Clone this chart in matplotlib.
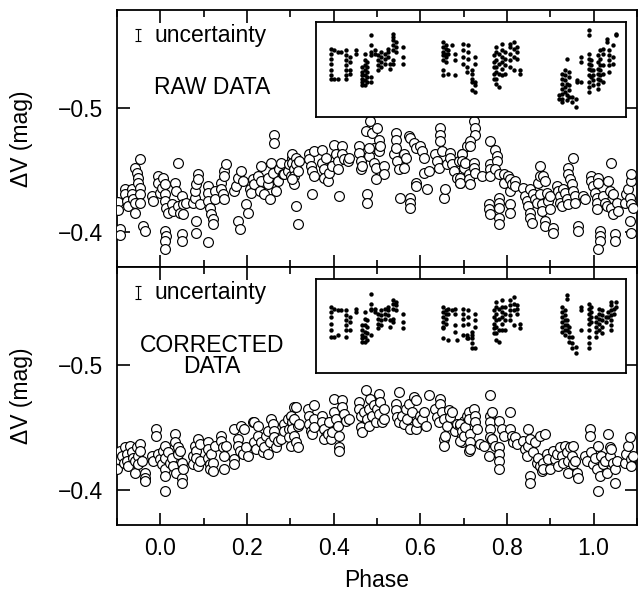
import matplotlib
matplotlib.use("Agg")
import matplotlib.pyplot as plt
from matplotlib.ticker import MultipleLocator, NullLocator

plt.rcParams['font.family'] = ['Liberation Sans', 'DejaVu Sans']

# ---------------- main panels: phase / delta V ----------------
raw_phase = [
    -0.097, -0.097, -0.093, -0.093, -0.082, -0.082, -0.078, -0.074, -0.066, -0.066,
    -0.062, -0.059, -0.059, -0.059, -0.055, -0.051, -0.051, -0.047, -0.047, -0.047,
    -0.047, -0.039, -0.036, -0.020, -0.016, -0.005, -0.005, -0.001, 0.003, 0.007,
    0.010, 0.010, 0.010, 0.014, 0.010, 0.014, 0.010, 0.010, 0.018, 0.026,
    0.030, 0.033, 0.037, 0.041, 0.041, 0.045, 0.049, 0.049, 0.049, 0.053,
    0.053, 0.060, 0.076, 0.079, 0.079, 0.083, 0.087, 0.087, 0.083, 0.083,
    0.091, 0.110, 0.110, 0.110, 0.114, 0.110, 0.118, 0.121, 0.121, 0.125,
    0.125, 0.141, 0.141, 0.144, 0.148, 0.148, 0.152, 0.148, 0.171, 0.175,
    0.179, 0.183, 0.179, 0.187, 0.190, 0.198, 0.202, 0.206, 0.210, 0.213,
    0.217, 0.225, 0.229, 0.233, 0.233, 0.240, 0.248, 0.248, 0.252, 0.256,
    0.259, 0.263, 0.263, 0.267, 0.271, 0.275, 0.279, 0.282, 0.286, 0.294,
    0.298, 0.302, 0.305,
    0.305, 0.305, 0.309, 0.309, 0.309, 0.313, 0.313, 0.317, 0.313, 0.317,
    0.321, 0.305, 0.344, 0.344, 0.348, 0.351, 0.355, 0.355, 0.351, 0.373,
    0.374, 0.378, 0.378, 0.382, 0.386, 0.390, 0.401, 0.397, 0.405, 0.409,
    0.409, 0.413, 0.420, 0.420, 0.424, 0.432, 0.436, 0.459, 0.459, 0.463,
    0.463, 0.466, 0.474, 0.478, 0.478, 0.482, 0.485, 0.489, 0.493, 0.493,
    0.497, 0.501, 0.505, 0.505, 0.508, 0.516, 0.516, 0.497, 0.482, 0.539,
    0.543, 0.543, 0.543, 0.547, 0.551, 0.554, 0.562, 0.562, 0.566, 0.574,
    0.577, 0.577, 0.577, 0.577, 0.585, 0.589, 0.589, 0.589, 0.600, 0.604,
    0.608, 0.608, 0.616, 0.620, 0.635, 0.639, 0.643, 0.646, 0.646, 0.646,
    0.650, 0.654, 0.658, 0.662, 0.669, 0.669, 0.673, 0.677, 0.685, 0.689,
    0.692, 0.696, 0.700, 0.708,
    0.723, 0.727, 0.727, 0.715, 0.715, 0.696, 0.696, 0.700, 0.704, 0.692,
    0.692, 0.712, 0.712, 0.715, 0.723, 0.723, 0.727, 0.742, 0.761, 0.761,
    0.761, 0.761, 0.773, 0.777, 0.777, 0.773, 0.781, 0.792, 0.792, 0.803,
    0.807, 0.807, 0.811, 0.819, 0.819, 0.758, 0.758, 0.761, 0.781, 0.781,
    0.781, 0.781, 0.781, 0.807, 0.807, 0.838, 0.842, 0.846, 0.849, 0.853,
    0.853, 0.853, 0.857, 0.861, 0.865, 0.869, 0.872, 0.876, 0.876, 0.876,
    0.880, 0.880, 0.884, 0.888, 0.888, 0.888, 0.892, 0.895, 0.899, 0.899,
    0.907, 0.907, 0.915, 0.918, 0.922, 0.922, 0.926, 0.930, 0.934, 0.938,
    0.941, 0.941, 0.941, 0.945, 0.949, 0.953, 0.953, 0.957, 0.957, 0.964,
    0.964, 0.976, 0.980, 0.995, 0.995, 0.999, 1.003, 1.007, 1.007, 1.007,
    1.010, 1.010, 1.014, 1.014, 1.014, 1.010, 1.022, 1.026, 1.030, 1.033,
    1.037, 1.041, 1.041, 1.045, 1.045, 1.049, 1.049, 1.053, 1.056, 1.072,
    1.075, 1.079, 1.083, 1.087, 1.087, 1.087, 1.091, 1.083, 1.087,
]
raw_dv = [
    -0.4245, -0.4176, -0.4024, -0.3979, -0.4344, -0.4304, -0.4250, -0.4210, -0.4344, -0.4304,
    -0.4264, -0.4237, -0.4157, -0.4517, -0.4477, -0.4437, -0.4397, -0.4584, -0.4357, -0.4304,
    -0.4237, -0.4050, -0.4010, -0.4290, -0.4250, -0.4450, -0.4397, -0.4317, -0.4357, -0.4437,
    -0.4384, -0.4304, -0.4250, -0.4197, -0.4010, -0.3970, -0.3930, -0.3864, -0.4157, -0.4224,
    -0.4170, -0.4397, -0.4330, -0.4557, -0.4210, -0.4157, -0.4290, -0.3984, -0.3930, -0.4224,
    -0.4144, -0.4237, -0.4237, -0.4277, -0.4330, -0.4384, -0.4464, -0.4424, -0.4090, -0.3997,
    -0.4224, -0.4370, -0.4317, -0.4250, -0.4197, -0.3917, -0.4144, -0.4104, -0.4064, -0.4330,
    -0.4264, -0.4397, -0.4344, -0.4304, -0.4490, -0.4264, -0.4544, -0.4450, -0.4330, -0.4370,
    -0.4090, -0.4024, -0.4437, -0.4490, -0.4410, -0.4224, -0.4157, -0.4344, -0.4317, -0.4424,
    -0.4384, -0.4450, -0.4330, -0.4530, -0.4410, -0.4304, -0.4384, -0.4437, -0.4264, -0.4557,
    -0.4477, -0.4784, -0.4717, -0.4330, -0.4410, -0.4504, -0.4557, -0.4464, -0.4464, -0.4490,
    -0.4544, -0.4450, -0.4597,
    -0.4624, -0.4557, -0.4504, -0.4450, -0.4384, -0.4597, -0.4544, -0.4490, -0.4210, -0.4064,
    -0.4571, -0.4424, -0.4624, -0.4584, -0.4530, -0.4490, -0.4650, -0.4450, -0.4304, -0.4664,
    -0.4557, -0.4504, -0.4437, -0.4597, -0.4410, -0.4477, -0.4704, -0.4530, -0.4624, -0.4571,
    -0.4504, -0.4290, -0.4690, -0.4624, -0.4584, -0.4571, -0.4597, -0.4690, -0.4637, -0.4571,
    -0.4504, -0.4530, -0.4810, -0.4304, -0.4237, -0.4610, -0.4890, -0.4797, -0.4677, -0.4557,
    -0.4517, -0.4837, -0.4744, -0.4650, -0.4690, -0.4530, -0.4464, -0.4424, -0.4677, -0.4624,
    -0.4797, -0.4744, -0.4677, -0.4571, -0.4504, -0.4277, -0.4624, -0.4517, -0.4597, -0.4770,
    -0.4757, -0.4277, -0.4237, -0.4197, -0.4717, -0.4677, -0.4397, -0.4370, -0.4690, -0.4650,
    -0.4597, -0.4477, -0.4344, -0.4490, -0.4624, -0.4571, -0.4517, -0.4837, -0.4784, -0.4736,
    -0.4650, -0.4277, -0.4344, -0.4544, -0.4637, -0.4597, -0.4544, -0.4490, -0.4437, -0.4571,
    -0.4397, -0.4624, -0.4530, -0.4690,
    -0.4890, -0.4837, -0.4784, -0.4730, -0.4690, -0.4624, -0.4571, -0.4517, -0.4557, -0.4437,
    -0.4397, -0.4464, -0.4424, -0.4384, -0.4557, -0.4517, -0.4477, -0.4450, -0.4730, -0.4544,
    -0.4504, -0.4450, -0.4664, -0.4610, -0.4571, -0.4504, -0.4464, -0.4464, -0.4397, -0.4450,
    -0.4424, -0.4330, -0.4384, -0.4410, -0.4370, -0.4224, -0.4184, -0.4144, -0.4277, -0.4237,
    -0.4197, -0.4117, -0.4064, -0.4224, -0.4157, -0.4357, -0.4290, -0.4250, -0.4210, -0.4344,
    -0.4157, -0.4117, -0.4077, -0.4304, -0.4264, -0.4237, -0.4397, -0.4530, -0.4450, -0.4304,
    -0.4224, -0.4170, -0.4450, -0.4410, -0.4090, -0.4050, -0.4317, -0.4250, -0.4290, -0.4184,
    -0.4037, -0.3997, -0.4370, -0.4330, -0.4290, -0.4237, -0.4210, -0.4344, -0.4317, -0.4264,
    -0.4517, -0.4464, -0.4224, -0.4424, -0.4384, -0.4597, -0.4330, -0.4290, -0.4237, -0.4050,
    -0.4010, -0.4290, -0.4264, -0.4450, -0.4410, -0.4370, -0.4317, -0.4277, -0.4237, -0.4184,
    -0.4437, -0.4397, -0.4010, -0.3970, -0.3930, -0.3864, -0.4290, -0.4237, -0.4210, -0.4410,
    -0.4330, -0.4557, -0.4197, -0.4304, -0.4144, -0.3984, -0.3930, -0.4237, -0.4170, -0.4237,
    -0.4304, -0.4344, -0.4277, -0.4410, -0.4464, -0.4224, -0.4197, -0.4090, -0.3997,
]

cor_phase = [
    -0.101, -0.097, -0.093, -0.089, -0.085, -0.082, -0.078, -0.078, -0.074, -0.070,
    -0.066, -0.062, -0.059, -0.059, -0.055, -0.051, -0.051, -0.047, -0.047, -0.043,
    -0.036, -0.036, -0.036, -0.020, -0.016, -0.009, -0.009, -0.005, -0.001, 0.003,
    0.007, 0.010, 0.010, 0.010, 0.010, 0.010, 0.018, 0.022, 0.026, 0.030,
    0.033, 0.033, 0.037, 0.041, 0.041, 0.045, 0.049, 0.049, 0.049, 0.053,
    0.076, 0.076, 0.079, 0.083, 0.083, 0.087, 0.087, 0.091, 0.091, 0.110,
    0.110, 0.110, 0.114, 0.114, 0.118, 0.121, 0.121, 0.125, 0.141, 0.141,
    0.144, 0.148, 0.148, 0.152, 0.171, 0.171, 0.171, 0.179, 0.179, 0.183,
    0.187, 0.190, 0.194, 0.198, 0.202, 0.213, 0.217, 0.217, 0.221, 0.225,
    0.225, 0.233, 0.236, 0.240, 0.244, 0.248, 0.248, 0.252, 0.256, 0.259,
    0.263, 0.263, 0.267, 0.271, 0.279, 0.286, 0.286, 0.294, 0.298, 0.298,
    0.302, 0.309,
    0.302, 0.305, 0.305, 0.309, 0.313, 0.313, 0.317, 0.317, 0.309, 0.321,
    0.340, 0.344, 0.344, 0.348, 0.351, 0.355, 0.355, 0.355, 0.374, 0.374,
    0.378, 0.382, 0.378, 0.386, 0.390, 0.393, 0.397, 0.401, 0.401, 0.405,
    0.409, 0.413, 0.413, 0.413, 0.420, 0.420, 0.424, 0.428, 0.436, 0.459,
    0.459, 0.463, 0.463, 0.466, 0.470, 0.474, 0.478, 0.482, 0.482, 0.485,
    0.489, 0.493, 0.497, 0.501, 0.505, 0.505, 0.508, 0.512, 0.516, 0.516,
    0.543, 0.543, 0.547, 0.551, 0.551, 0.558, 0.562, 0.566, 0.570, 0.574,
    0.577, 0.581, 0.585, 0.589, 0.589, 0.593, 0.600, 0.604, 0.608, 0.612,
    0.620, 0.635, 0.639, 0.643, 0.646, 0.646, 0.650, 0.654, 0.654, 0.658,
    0.654, 0.662, 0.666, 0.669, 0.673, 0.681, 0.685, 0.692, 0.696, 0.696,
    0.700, 0.708, 0.712,
    0.692, 0.692, 0.696, 0.700, 0.704, 0.712, 0.712, 0.715, 0.715, 0.715,
    0.723, 0.727, 0.727, 0.731, 0.738, 0.746, 0.758, 0.761, 0.761, 0.761,
    0.761, 0.761, 0.765, 0.765, 0.773, 0.781, 0.781, 0.781, 0.781, 0.781,
    0.788, 0.792, 0.807, 0.807, 0.811, 0.815, 0.819, 0.823, 0.838, 0.842,
    0.846, 0.849, 0.849, 0.853, 0.853, 0.853, 0.861, 0.865, 0.869, 0.872,
    0.876, 0.876, 0.880, 0.884, 0.884, 0.888, 0.892, 0.895, 0.899, 0.907,
    0.911, 0.915, 0.918, 0.922, 0.926, 0.930, 0.934, 0.938, 0.941, 0.941,
    0.945, 0.949, 0.953, 0.953, 0.957, 0.961, 0.964, 0.980, 0.984, 0.991,
    0.991, 0.995, 0.999, 1.003, 1.007, 1.010, 1.010, 1.014, 1.018, 1.022,
    1.026, 1.030, 1.033, 1.037, 1.037, 1.041, 1.045, 1.049, 1.049, 1.053,
    1.072, 1.075, 1.079, 1.083, 1.087, 1.087, 1.091,
]
cor_dv = [
    -0.4166, -0.4247, -0.4314, -0.4274, -0.4220, -0.4341, -0.4287, -0.4234, -0.4193, -0.4354,
    -0.4301, -0.4260, -0.4234, -0.4139, -0.4341, -0.4274, -0.4207, -0.4368, -0.4314, -0.4234,
    -0.4139, -0.4099, -0.4072, -0.4274, -0.4234, -0.4489, -0.4435, -0.4287, -0.4247, -0.4207,
    -0.4314, -0.4354, -0.4260, -0.4166, -0.4113, -0.3992, -0.4301, -0.4220, -0.4260, -0.4193,
    -0.4449, -0.4381, -0.4139, -0.4341, -0.4287, -0.4314, -0.4220, -0.4099, -0.4059, -0.4166,
    -0.4274, -0.4207, -0.4354, -0.4314, -0.4260, -0.4408, -0.4193, -0.4368, -0.4234, -0.4381,
    -0.4328, -0.4260, -0.4207, -0.4166, -0.4287, -0.4220, -0.4153, -0.4354, -0.4435, -0.4395,
    -0.4341, -0.4274, -0.4166, -0.4354, -0.4489, -0.4247, -0.4207, -0.4408, -0.4354, -0.4314,
    -0.4516, -0.4287, -0.4489, -0.4341, -0.4274, -0.4543, -0.4543, -0.4381, -0.4328, -0.4516,
    -0.4435, -0.4381, -0.4301, -0.4341, -0.4435, -0.4475, -0.4287, -0.4381, -0.4570, -0.4529,
    -0.4475, -0.4422, -0.4341, -0.4395, -0.4408, -0.4529, -0.4475, -0.4570, -0.4489, -0.4422,
    -0.4354, -0.4664,
    -0.4596, -0.4543, -0.4489, -0.4435, -0.4664, -0.4381, -0.4341, -0.4516, -0.4570, -0.4529,
    -0.4650, -0.4596, -0.4529, -0.4475, -0.4449, -0.4677, -0.4570, -0.4502, -0.4596, -0.4543,
    -0.4489, -0.4435, -0.4408, -0.4449, -0.4543, -0.4408, -0.4462, -0.4623, -0.4731, -0.4570,
    -0.4516, -0.4435, -0.4341, -0.4314, -0.4717, -0.4664, -0.4610, -0.4556, -0.4570, -0.4704,
    -0.4650, -0.4596, -0.4502, -0.4462, -0.4623, -0.4798, -0.4570, -0.4650, -0.4516, -0.4731,
    -0.4596, -0.4677, -0.4543, -0.4650, -0.4771, -0.4610, -0.4704, -0.4543, -0.4650, -0.4570,
    -0.4691, -0.4637, -0.4583, -0.4785, -0.4543, -0.4596, -0.4529, -0.4650, -0.4570, -0.4691,
    -0.4489, -0.4623, -0.4744, -0.4717, -0.4489, -0.4543, -0.4596, -0.4570, -0.4623, -0.4516,
    -0.4758, -0.4650, -0.4583, -0.4543, -0.4731, -0.4691, -0.4623, -0.4570, -0.4408, -0.4435,
    -0.4354, -0.4516, -0.4637, -0.4583, -0.4623, -0.4475, -0.4529, -0.4516, -0.4435, -0.4381,
    -0.4556, -0.4596, -0.4314,
    -0.4529, -0.4395, -0.4475, -0.4435, -0.4502, -0.4623, -0.4570, -0.4449, -0.4381, -0.4328,
    -0.4650, -0.4596, -0.4543, -0.4489, -0.4368, -0.4354, -0.4274, -0.4596, -0.4543, -0.4489,
    -0.4422, -0.4758, -0.4623, -0.4408, -0.4354, -0.4556, -0.4341, -0.4287, -0.4234, -0.4166,
    -0.4489, -0.4435, -0.4623, -0.4489, -0.4435, -0.4381, -0.4422, -0.4368, -0.4395, -0.4328,
    -0.4274, -0.4489, -0.4354, -0.4408, -0.4113, -0.4059, -0.4301, -0.4381, -0.4220, -0.4260,
    -0.4435, -0.4193, -0.4153, -0.4220, -0.4166, -0.4449, -0.4287, -0.4247, -0.4166, -0.4314,
    -0.4247, -0.4287, -0.4193, -0.4341, -0.4274, -0.4220, -0.4354, -0.4301, -0.4234, -0.4139,
    -0.4341, -0.4274, -0.4354, -0.4207, -0.4234, -0.4139, -0.4099, -0.4274, -0.4234, -0.4489,
    -0.4435, -0.4301, -0.4207, -0.4260, -0.4166, -0.4354, -0.3992, -0.4113, -0.4274, -0.4207,
    -0.4234, -0.4139, -0.4449, -0.4341, -0.4274, -0.4328, -0.4220, -0.4166, -0.4059, -0.4234,
    -0.4220, -0.4287, -0.4354, -0.4422, -0.4247, -0.4193, -0.4274,
]

# uncertainty bar (one typical error)
unc_phase = -0.051
unc_dv = -0.5584
unc_err = 0.0052

# ---------------- insets: light curve vs time (arbitrary units) ----------------
raw_inset_t = [5.5, 6.5, 7.5, 8.5, 10.0, 11.0, 13.0, 14.8, 15.5, 16.2, 17.5, 18.5,
               19.5, 20.5, 21.5, 22.5, 23.2, 24.0, 25.0, 27.0,
               39.0, 39.8, 40.5, 41.5, 42.5, 45.0, 46.0, 46.5, 47.5, 48.5,
               54.0, 54.8, 55.5, 56.5, 57.5, 59.0, 60.0, 61.0, 62.0,
               73.5, 74.5, 75.2, 76.0, 76.5, 77.5, 78.5, 79.0, 80.0,
               82.5, 83.0, 83.8, 85.0, 85.8, 86.5, 87.8, 88.5, 89.5, 90.5]
raw_inset_m = [
    [8.5, 10.0, 11.5, 13.0, 15.0, 16.5, 17.5], [9.0, 17.5], [9.5, 17.5], [9.5],
    [9.0, 10.5, 12.0, 13.5, 15.0, 16.5, 17.5], [11.0, 12.5, 15.0, 16.0], [9.0, 10.0],
    [14.0, 15.5, 16.5, 17.5, 18.5, 19.5], [10.0, 12.0, 13.5, 15.0, 16.5, 18.0, 19.5],
    [12.5, 14.0, 15.5, 17.0, 18.5], [4.5, 7.5, 9.5, 10.5, 17.0, 18.5], [9.0, 10.0],
    [10.5, 12.0, 13.5, 15.0], [9.5, 11.0, 12.5, 14.0], [10.0, 11.5, 13.0], [8.5, 9.5, 11.0],
    [13.0, 14.5], [4.0, 5.0, 6.0, 7.5, 9.0, 12.0, 13.0], [6.5, 8.0, 9.5], [8.0, 11.0, 13.0],
    [6.5, 8.0, 9.5, 10.5, 12.0, 15.0, 16.5], [7.5, 8.5, 10.0, 11.0, 12.5], [9.0, 10.0, 16.0],
    [7.5], [10.0, 12.0, 16.5],
    [7.0, 9.0, 11.0, 13.0], [14.0, 15.5], [7.5, 9.5, 11.5], [15.0, 16.0, 17.5, 18.5, 21.0],
    [11.0, 13.0, 18.5, 19.5, 21.5],
    [10.5, 12.5, 14.0, 16.0, 17.5], [8.0, 9.5, 12.0, 14.0, 15.5, 17.5, 19.0],
    [10.0, 13.0, 16.0, 20.0], [7.0, 9.0, 11.0, 12.5, 14.5, 16.5], [9.5, 11.5, 13.5, 16.0],
    [7.0, 8.0, 10.0, 12.0, 14.0], [6.5, 8.5, 11.0, 15.0], [8.0, 9.5, 11.5], [15.0, 16.0],
    [22.5, 23.5], [16.0, 17.5, 19.0, 20.5, 22.0, 23.5, 24.5], [15.0, 16.5, 18.0, 20.0, 21.5],
    [11.5, 19.0, 22.5, 24.0], [15.5, 17.0, 19.5, 21.0, 23.0], [23.0, 24.5], [23.5, 26.0],
    [18.0, 18.5], [11.0, 12.5, 18.5],
    [3.0, 4.5, 10.0, 11.5, 13.0, 14.5, 16.5, 18.5, 20.0, 21.5], [12.0, 13.5, 15.0, 17.0],
    [15.0, 16.5, 18.0, 19.5], [10.5, 12.5, 14.5, 16.0, 17.5, 19.0, 20.5],
    [9.0, 11.5, 13.5, 15.0, 16.5, 18.0], [8.5, 10.0, 13.5, 16.0, 18.5], [5.5, 6.5],
    [9.0, 10.5, 12.0, 13.5, 15.5], [7.5, 11.0, 13.0], [4.0, 4.5],
]

cor_inset_t = [5.5, 6.5, 7.5, 8.5, 10.0, 11.0, 13.0, 14.8, 15.5, 16.2, 17.5, 18.5,
               19.5, 20.5, 21.5, 22.5, 23.2, 24.0, 25.0, 27.0,
               39.0, 39.8, 40.5, 41.5, 42.5, 43.2, 45.0, 46.0, 46.5, 47.5, 48.5,
               54.0, 54.8, 55.5, 56.5, 57.5, 59.0, 60.0, 61.0, 62.0,
               74.5, 75.2, 76.0, 76.5, 77.5, 78.5, 80.0,
               82.5, 83.2, 84.5, 85.5, 86.2, 87.5, 88.0, 89.0, 90.0, 90.5]
cor_inset_m = [
    [9.0, 10.5, 12.0, 14.0, 16.0, 18.0], [9.5, 18.0], [10.0, 17.5], [10.0],
    [10.0, 11.5, 13.0, 14.5, 16.0, 18.0], [12.0, 13.5, 16.0], [9.5, 10.5],
    [14.5, 16.0, 17.5, 18.5, 19.5], [10.5, 12.5, 14.5, 16.5, 18.0, 19.5],
    [13.0, 15.0, 17.0, 19.0], [5.0, 8.0, 9.5, 10.0, 17.5], [9.5, 10.5],
    [11.0, 12.5, 14.0, 15.5], [10.0, 11.5, 13.0, 14.5], [9.5, 11.0, 12.5], [9.0, 10.0, 11.5],
    [13.0, 15.0], [7.0, 8.0, 9.5, 12.5, 13.5], [7.5, 8.5, 10.0], [11.0, 13.5, 15.5],
    [9.0, 10.5, 12.0, 13.5, 15.0, 15.5, 18.5], [10.0, 11.0, 12.5, 14.0], [9.5, 11.0, 19.0],
    [10.0], [9.5, 11.0, 14.5, 16.5], [19.0],
    [9.5, 11.0, 12.5, 14.5, 17.5], [17.5, 18.5], [10.0, 12.0, 14.0, 18.5],
    [16.5, 17.5, 18.5, 20.0, 21.5], [11.0, 13.0, 15.0, 21.5],
    [10.0, 12.0, 14.0, 15.5, 17.0], [7.5, 9.0, 11.0, 13.0, 15.0, 17.0, 19.0],
    [9.5, 12.5, 16.0, 19.5], [7.0, 9.0, 10.5, 12.0, 14.0, 16.0], [9.0, 11.0, 13.0, 16.0],
    [7.0, 8.5, 10.0, 11.5, 13.0], [6.0, 8.0, 10.0, 14.5], [8.5, 9.5, 11.0], [14.0, 15.5],
    [9.0, 10.5, 12.0, 13.5, 15.0, 16.5], [10.0, 11.5, 13.0, 14.5, 16.0, 17.5],
    [5.5, 6.5, 13.0, 14.5, 16.0], [15.0, 16.5, 18.0, 19.5], [18.0, 20.0, 21.5],
    [21.0, 23.0], [9.0, 10.0, 16.0],
    [8.0, 9.5, 11.0, 12.5, 14.0, 16.0, 18.0, 20.0, 21.5], [9.0, 10.5, 12.0, 13.5],
    [12.0, 13.5, 15.0, 16.5, 18.0], [9.5, 11.0, 12.5, 14.0, 16.0],
    [10.0, 11.5, 13.0, 15.0, 17.0], [12.0, 13.5], [10.5, 12.0],
    [7.5, 8.5, 10.0, 11.5, 13.0, 14.5, 16.0], [9.5, 11.0], [7.5, 9.0],
]

# ---------------- figure ----------------
fig = plt.figure(figsize=(6.38, 5.94), dpi=100)
FS = 16.5
ax1 = fig.add_axes([0.1834, 0.5505, 0.8150, 0.4327])
ax2 = fig.add_axes([0.1834, 0.1162, 0.8150, 0.4343])

for ax, ph, dv in ((ax1, raw_phase, raw_dv), (ax2, cor_phase, cor_dv)):
    ax.scatter(ph, dv, s=50, facecolors='white', edgecolors='black',
               linewidths=0.85, zorder=3)
    ax.errorbar([unc_phase], [unc_dv], yerr=unc_err, fmt='none', ecolor='black',
                elinewidth=0.8, capsize=2.2, capthick=0.8)
    ax.set_xlim(-0.1, 1.1)
    ax.set_ylim(-0.372, -0.5785)
    ax.set_yticks([-0.5, -0.4])
    ax.set_xticks([0.0, 0.2, 0.4, 0.6, 0.8, 1.0])
    ax.xaxis.set_minor_locator(MultipleLocator(0.1))
    ax.yaxis.set_minor_locator(NullLocator())
    ax.tick_params(which='both', direction='in', top=True, right=True,
                   width=1.2, labelsize=FS)
    ax.tick_params(which='major', length=9)
    ax.tick_params(which='minor', length=5)
    ax.tick_params(axis='y', pad=10)
    ax.tick_params(axis='x', pad=9)
    for sp in ax.spines.values():
        sp.set_linewidth(1.3)
    ax.set_ylabel('ΔV (mag)', fontsize=FS)
    ax.yaxis.set_label_coords(-0.162, 0.5)
    ax.text(0.073, 0.90, 'uncertainty', transform=ax.transAxes, fontsize=FS,
            ha='left', va='center')

ax1.tick_params(axis='x', labelbottom=False)
ax2.set_xticklabels(['0.0', '0.2', '0.4', '0.6', '0.8', '1.0'])
ax2.set_xlabel('Phase', fontsize=FS)
ax2.xaxis.set_label_coords(0.5, -0.17)

ax1.text(0.183, 0.697, 'RAW DATA', transform=ax1.transAxes, fontsize=FS,
         ha='center', va='center')
ax2.text(0.183, 0.655, 'CORRECTED\nDATA', transform=ax2.transAxes, fontsize=FS,
         ha='center', va='center', linespacing=0.9)

# insets
in1 = fig.add_axes([0.4953, 0.8030, 0.4859, 0.1599])
in2 = fig.add_axes([0.4953, 0.3721, 0.4859, 0.1582])
for ia, tcols, mcols in ((in1, raw_inset_t, raw_inset_m), (in2, cor_inset_t, cor_inset_m)):
    ts = [t for t, ms in zip(tcols, mcols) for _ in ms]
    ms_ = [m for ms in mcols for m in ms]
    ia.scatter(ts, ms_, s=10, color='black', linewidths=0)
    ia.set_xlim(1.0, 93.5)
    ia.set_ylim(29.0, 0.5)
    ia.set_xticks([])
    ia.set_yticks([])
    for sp in ia.spines.values():
        sp.set_linewidth(1.3)

fig.savefig('out.png', dpi=100)
